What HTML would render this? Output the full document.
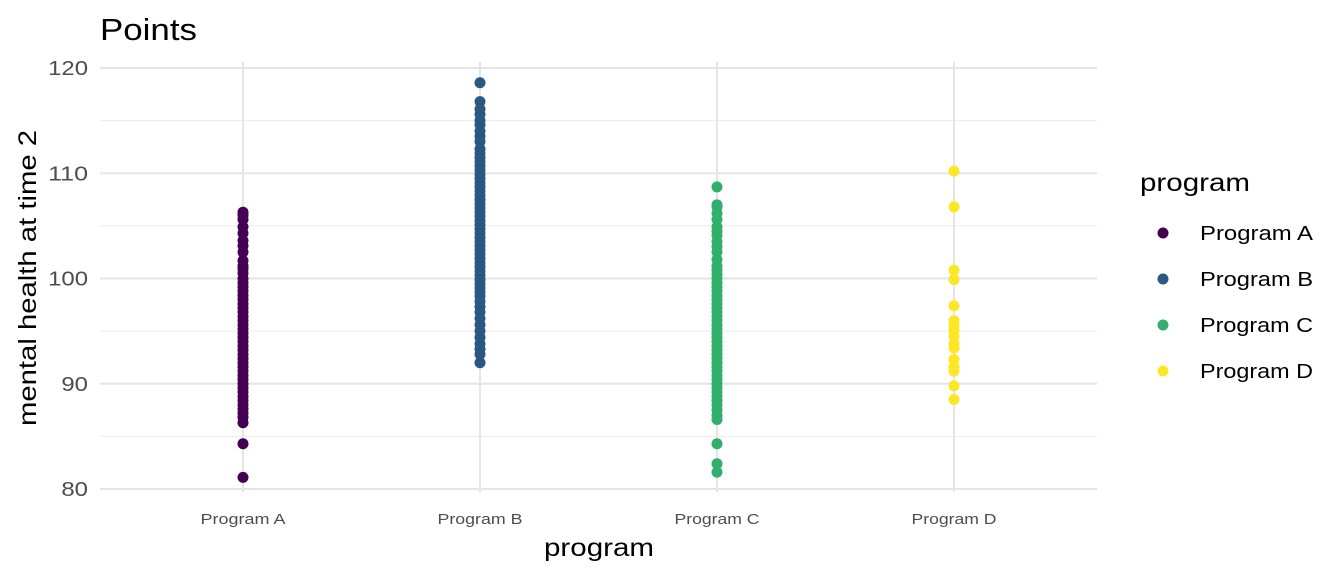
<!DOCTYPE html>
<html><head><meta charset="utf-8"><style>
body{margin:0;background:#fff;font-family:"Liberation Sans",Arial,sans-serif}
svg text{font-family:"Liberation Sans",Arial,sans-serif}
</style></head><body>
<svg id="c" width="1344" height="576">
<text x="100" y="40" font-size="31" textLength="97" lengthAdjust="spacingAndGlyphs" fill="#000">Points</text>
<g id="grid"></g><g id="pts"></g><g id="axes"></g>
<text x="599" y="556" font-size="25" textLength="110" lengthAdjust="spacingAndGlyphs" text-anchor="middle">program</text>
<text transform="translate(36,278) rotate(-90)" font-size="25" textLength="296" lengthAdjust="spacingAndGlyphs" text-anchor="middle">mental health at time 2</text>
<text x="1140" y="191" font-size="25" textLength="110" lengthAdjust="spacingAndGlyphs">program</text>
<g id="leg"></g>
</svg>
<script>
const categories=["Program A","Program B","Program C","Program D"];
const colors=["#440154","#2A5783","#31B06C","#FDE725"];
const yTicks=[80,90,100,110,120];
const yMinor=[85,95,105,115];
const seriesA=[106.3,106.0,105.6,104.9,104.3,103.6,103.1,102.5,101.7,101.2,100.9,100.5,100.0,99.6,99.2,98.8,98.4,98.0,97.6,97.2,96.8,96.4,96.0,95.6,95.2,94.8,94.4,94.0,93.6,93.2,92.8,92.4,92.0,91.6,91.2,90.8,90.4,90.0,89.6,89.2,88.8,88.4,88.0,87.6,87.2,86.8,86.3,84.3,81.1];
const seriesB=[118.6,116.8,116.1,115.6,115.0,114.6,114.0,113.5,113.0,112.3,111.9,111.5,111.1,110.7,110.3,109.9,109.5,109.1,108.7,108.3,107.9,107.5,107.1,106.7,106.3,105.9,105.5,105.1,104.7,104.3,103.9,103.5,103.1,102.7,102.3,101.9,101.5,101.1,100.7,100.3,99.9,99.5,99.1,98.7,98.3,97.8,97.3,96.8,96.2,95.6,95.0,94.4,93.8,93.3,92.8,92.0];
const seriesC=[108.7,107.0,106.8,106.2,105.6,104.9,104.5,104.1,103.5,103.0,102.5,101.8,101.2,100.8,100.4,100.0,99.6,99.2,98.8,98.4,98.0,97.6,97.2,96.8,96.4,96.0,95.6,95.2,94.8,94.4,94.0,93.6,93.2,92.8,92.4,92.0,91.6,91.2,90.8,90.4,90.0,89.6,89.2,88.8,88.4,88.0,87.5,87.0,86.6,84.3,82.4,81.6];
const seriesD=[110.2,106.8,100.8,99.9,97.4,96.0,95.5,95.1,94.5,93.8,93.4,92.3,91.6,91.2,89.8,88.5];
const series=[seriesA,seriesB,seriesC,seriesD];
const NS="http://www.w3.org/2000/svg";
const y=v=>489-(v-80)*10.525;
const x=i=>243+i*237;
function mk(p,t,a){const e=document.createElementNS(NS,t);for(const k in a)e.setAttribute(k,a[k]);document.getElementById(p).appendChild(e);return e;}
yMinor.forEach(v=>{const l=mk("grid","line",{x1:100,x2:1097,y1:y(v),y2:y(v),stroke:"#ebebeb","stroke-width":1});

});
yTicks.forEach(v=>{const l=mk("grid","line",{x1:100,x2:1097,y1:y(v),y2:y(v),stroke:"#e5e5e5","stroke-width":2});


const t=mk("axes","text",{x:88,y:y(v)+7,"font-size":20,fill:"#4d4d4d","text-anchor":"end",textLength:String(v).length*13.3,lengthAdjust:"spacingAndGlyphs"});t.textContent=v;

});
categories.forEach((c,i)=>{const l=mk("grid","line",{x1:x(i),x2:x(i),y1:62,y2:492,stroke:"#e5e5e5","stroke-width":2});


const t=mk("axes","text",{x:x(i),y:524,"font-size":15,fill:"#4d4d4d","text-anchor":"middle",textLength:85,lengthAdjust:"spacingAndGlyphs"});t.textContent=c;


series[i].forEach(v=>{const p=mk("pts","circle",{cx:x(i),cy:y(v),r:5.5,fill:colors[i]});

});
const ly=233+i*46;
const d=mk("leg","circle",{cx:1163,cy:ly,r:5.5,fill:colors[i]});


const lt=mk("leg","text",{x:1200,y:ly+7,"font-size":20,fill:"#000",textLength:113,lengthAdjust:"spacingAndGlyphs"});lt.textContent=c;

});
</script>
</body></html>
